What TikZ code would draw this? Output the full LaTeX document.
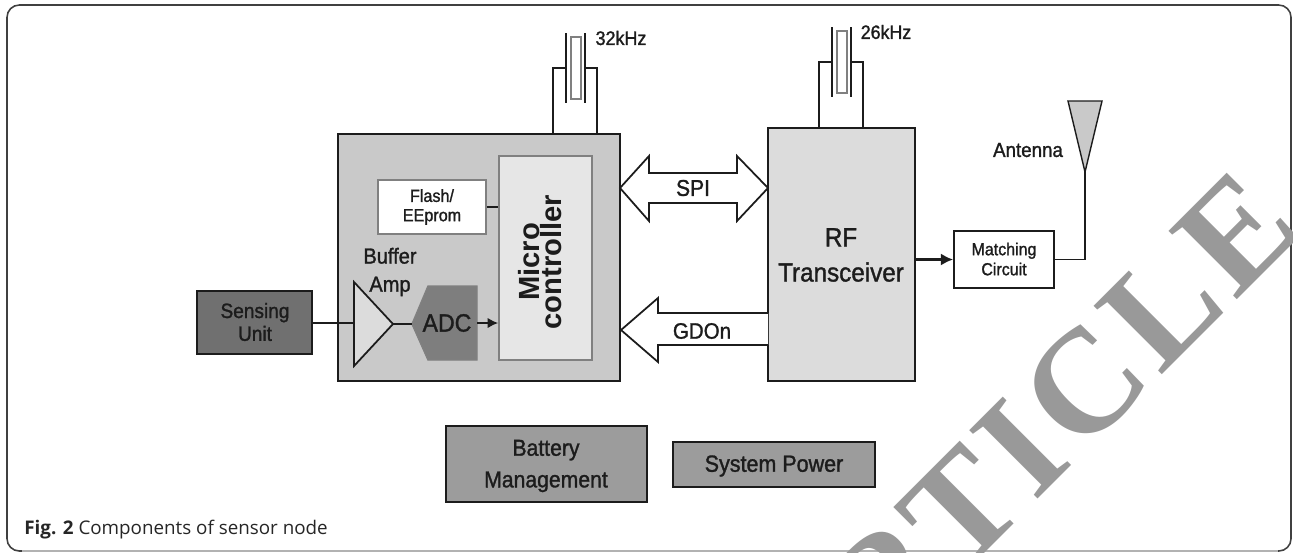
\documentclass[tikz,border=0pt]{standalone}
\usepackage{fontspec}
\setmainfont{Liberation Sans}[FakeStretch=0.92,FakeBold=1.3]
\newfontfamily\headfont{Liberation Sans}
\newfontfamily\capfont{Open Sans}
\newfontfamily\markfont{Liberation Serif}[LetterSpace=4.8]
\usetikzlibrary{arrows.meta,fit}
\definecolor{midgray}{HTML}{C9C9C9}
\definecolor{rfgray}{HTML}{DCDCDC}
\definecolor{darkbox}{HTML}{707070}
\definecolor{powergray}{HTML}{9C9C9C}
\definecolor{inkgray}{HTML}{1C1C1C}
\definecolor{markgray}{HTML}{999999}
\tikzset{
  part/.style={draw=inkgray,line width=1pt,inner sep=0pt},
  wire/.style={draw=inkgray,line width=1pt},
  tag/.style={text=inkgray,align=center,inner sep=0pt},
}
\newcommand{\crystalpart}[4]{% left wire, right wire, wire top, box top
  \draw[wire] (#1,#4)--(#1,#3)--(#1+13,#3) (#2,#4)--(#2,#3)--(#2-12,#3);
  \draw[wire] (#1+13,#3-35)--(#1+13,#3+35) (#2-12,#3-35)--(#2-12,#3+35);
  \draw[draw=gray,line width=0.8pt,fill=white] (#1+18,#3-31) rectangle (#1+28,#3+31);}
\begin{document}
\begin{tikzpicture}[x=0.02cm,y=-0.02cm]
\useasboundingbox (0,0) rectangle (1293,552);
\draw[draw=black!75,line width=0.9pt,rounded corners=7pt] (7,5) rectangle (1291,551);
\draw[draw=black!30,line width=0.9pt] (22,551)--(1278,551);
% processor side
\crystalpart{553}{597}{68}{134}
\crystalpart{819}{863}{62}{128}
\node[part,fill=midgray,fit={(338,134)(620,381)}] (mcu) {};
\node[part,draw=gray,fill=rfgray!70!white,fit={(499,156)(592,360)}] (ctrl) {};
\node[tag,rotate=90,font=\headfont\bfseries\fontsize{16.6}{13}\selectfont] (ctrltext) at (540,262) {Micro\\controller};
\node[part,draw=gray,fill=white,fit={(378,180)(486,234)}] (flash) {};
\node[tag,font=\fontsize{10}{11}\selectfont] (flashtext) at (432,207) {Flash/\\EEprom};
\draw[wire,line width=1.4pt] (flash.east)--(ctrl.west |- flash.east);
\node[part,fill=darkbox,fit={(197,291)(312,354)}] (sensing) {};
\node[tag,font=\fontsize{11.8}{13}\selectfont] (sensingtext) at (255,322) {Sensing\\Unit};
\draw[draw=inkgray,line width=1pt,fill=rfgray] (354,282)--(393,324)--(354,366)--cycle;
\coordinate (ampin) at (354,323);
\coordinate (ampout) at (393,324);
\draw[draw=gray,line width=0.8pt,fill=darkbox!90!white] (412,324)--(428,286)--(477,286)--(477,360)--(428,360)--cycle;
\coordinate (adcin) at (412,324);
\coordinate (adcout) at (477,323);
\node[tag,font=\fontsize{14.3}{16}\selectfont] (adc) at (447,323) {ADC};
\node[tag,font=\fontsize{12.4}{16}\selectfont] (buffer) at (390,272) {Buffer\\Amp};
\draw[wire] (sensing.east |- ampin)--(ampin);
\draw[wire] (ampout)--(adcin);
\draw[wire,-{Latex[length=6pt,width=6pt]}] (adcout)--(ctrl.west |- adcout);
% RF side
\node[part,fill=rfgray,fit={(768,128)(915,381)}] (rf) {};
\node[tag,font=\fontsize{15}{20}\selectfont] (rftext) at (841,255) {RF\\Transceiver};
\draw[draw=inkgray,line width=1pt,fill=white] (620,188)--(649,156)--(649,173)--(737,173)--(737,156)--(768,188)--(737,221)--(737,203)--(649,203)--(649,221)--cycle;
\node[tag,font=\fontsize{13}{16}\selectfont] (spi) at (693,188) {SPI};
\draw[draw=inkgray,line width=1pt,fill=white] (768,313)--(658,313)--(658,298)--(621,330)--(658,362)--(658,345)--(768,345);
\node[tag,font=\fontsize{12.7}{16}\selectfont] (gdon) at (702,331) {GDOn};
\node[tag,font=\fontsize{11.1}{12}\selectfont] (xtal1) at (621,38) {32kHz};
\node[tag,font=\fontsize{11}{12}\selectfont] (xtal2) at (886,32) {26kHz};
\node[part,fill=white,fit={(954,231)(1054,288)}] (match) {};
\node[tag,font=\fontsize{9.9}{11.4}\selectfont] (matchtext) at (1004,259) {Matching\\Circuit};
\draw[wire,line width=2.2pt,-{Latex[length=7pt,width=7pt]}] (rf.east |- match.west)--(match.west);
\draw[draw=inkgray,line width=0.8pt,fill=midgray] (1068,101)--(1102,101)--(1085,172)--cycle;
\coordinate (anttip) at (1085,172);
\draw[wire] (match.east)-|(anttip);
\node[tag,font=\fontsize{11.6}{12}\selectfont] (antenna) at (1028,150) {Antenna};
% power
\node[part,line width=1.3pt,fill=powergray,fit={(446,426)(647,502)}] (battery) {};
\node[tag,font=\fontsize{13.1}{18}\selectfont] (batterytext) at (546,466) {Battery\\Management};
\node[part,line width=1.3pt,fill=powergray,fit={(673,442)(875,487)}] (power) {};
\node[tag,font=\fontsize{13.3}{16}\selectfont] (powertext) at (774,466) {System Power};
\node[anchor=west,inner sep=0pt,font=\capfont\fontsize{10.7}{12}\selectfont,text=black!85] (caption) at (24,530) {\textbf{Fig. 2} Components of sensor node};
\begin{scope}
\clip (0,0) rectangle (1293,552);
\node[rotate=45,text=markgray,font=\markfont\bfseries\fontsize{84}{90}\selectfont] (watermark) at (1020,449) {ARTICLE};
\end{scope}
\end{tikzpicture}
\end{document}
